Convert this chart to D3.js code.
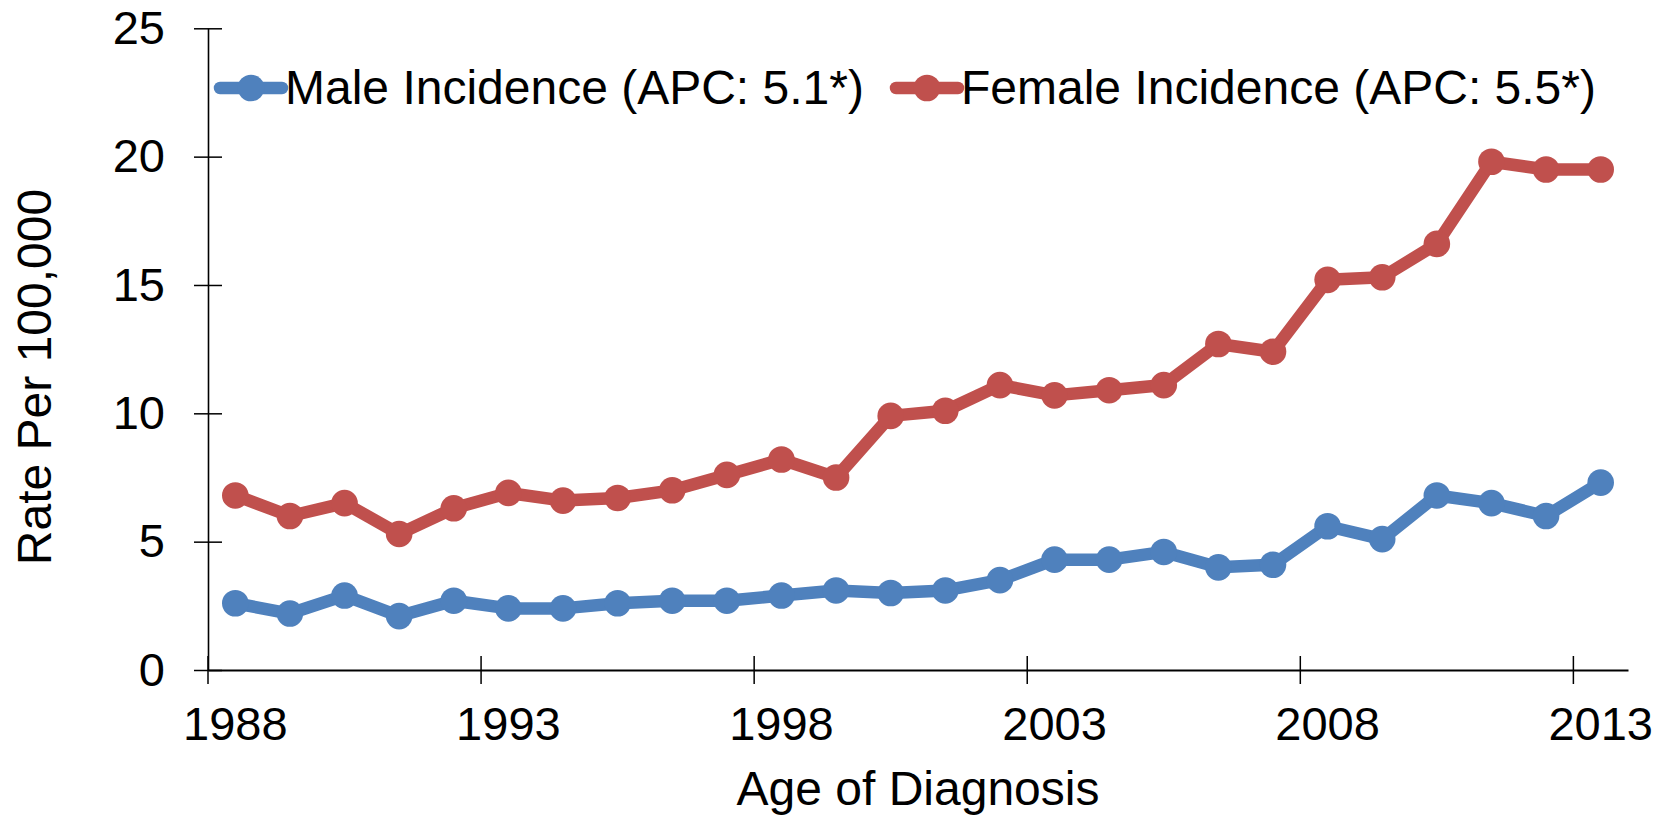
<!DOCTYPE html>
<html>
<head>
<meta charset="utf-8">
<script src="https://cdn.jsdelivr.net/npm/d3@7"></script>
<style>
  body { margin: 0; background: #fff; }
  svg { display: block; font-family: "Liberation Sans", Arial, sans-serif; }
</style>
</head>
<body>
<svg id="chart" width="1669" height="815"></svg>
<script>
// data
var years = [1988, 1989, 1990, 1991, 1992, 1993, 1994, 1995, 1996, 1997, 1998, 1999, 2000,
             2001, 2002, 2003, 2004, 2005, 2006, 2007, 2008, 2009, 2010, 2011, 2012, 2013];
var maleValues = [2.6, 2.2, 2.9, 2.1, 2.7, 2.4, 2.4, 2.6, 2.7, 2.7, 2.9, 3.1, 3.0,
                  3.1, 3.5, 4.3, 4.3, 4.6, 4.0, 4.1, 5.6, 5.1, 6.8, 6.5, 6.0, 7.3];
var femaleValues = [6.8, 6.0, 6.5, 5.3, 6.3, 6.9, 6.6, 6.7, 7.0, 7.6, 8.2, 7.5, 9.9,
                    10.1, 11.1, 10.7, 10.9, 11.1, 12.7, 12.4, 15.2, 15.3, 16.6, 19.8, 19.5, 19.5];
var xTickYears = [1988, 1993, 1998, 2003, 2008, 2013];
var yTicks = [0, 5, 10, 15, 20, 25];
var seriesNames = ["Male Incidence (APC: 5.1*)", "Female Incidence (APC: 5.5*)"];
var seriesColors = ["#4F81BD", "#C0504D"];

function draw() {
    let svg = d3.select("#chart");
    let left = 208, right = 1628, top = 28.3, bottom = 670;

    // category axis: one band per year, ticks on band edges, labels in the middle
    let x = d3.scaleBand().domain(years).range([left, right]).padding(0);
    let y = d3.scaleLinear().domain([0, 25]).range([bottom, top]);
    let bw = x.bandwidth();

    // y axis
    let yAxis = svg.append("g")
        .attr("transform", "translate(" + left + ",0)")
        .call(d3.axisLeft(y).tickValues(yTicks).tickSize(0).tickPadding(43).tickFormat(d3.format("d")));
    yAxis.select(".domain").attr("stroke", "#000").attr("stroke-width", 1.6);
    yAxis.selectAll(".tick line").attr("x1", -14).attr("x2", 14)
        .attr("stroke", "#000").attr("stroke-width", 1.5);
    yAxis.selectAll(".tick text").attr("font-size", 47).attr("fill", "#000")
        .attr("font-family", "Liberation Sans, Arial, sans-serif");

    // x axis
    let xAxis = svg.append("g")
        .attr("transform", "translate(0," + bottom + ")")
        .call(d3.axisBottom(x).tickValues(xTickYears).tickSize(0).tickPadding(37));
    xAxis.select(".domain").attr("stroke", "#000").attr("stroke-width", 2);
    xAxis.selectAll(".tick line")
        .attr("x1", -bw / 2).attr("x2", -bw / 2)
        .attr("y1", -14).attr("y2", 14)
        .attr("stroke", "#000").attr("stroke-width", 1.5);
    xAxis.selectAll(".tick text").attr("font-size", 47).attr("fill", "#000")
        .attr("font-family", "Liberation Sans, Arial, sans-serif");

    // axis titles
    svg.append("text")
        .attr("x", (left + right) / 2).attr("y", 805)
        .attr("text-anchor", "middle").attr("font-size", 48)
        .text("Age of Diagnosis");
    svg.append("text")
        .attr("transform", "translate(51,377) rotate(-90)")
        .attr("text-anchor", "middle").attr("font-size", 48)
        .text("Rate Per 100,000");

    // lines + markers
    let line = d3.line()
        .x(function (d) { return x(d.year) + bw / 2; })
        .y(function (d) { return y(d.value); });

    [maleValues, femaleValues].forEach(function (vals, i) {
        let pts = years.map(function (yr, j) { return { year: yr, value: vals[j] }; });
        let g = svg.append("g").attr("class", "series");
        g.append("path")
            .datum(pts)
            .attr("d", line)
            .attr("fill", "none")
            .attr("stroke", seriesColors[i])
            .attr("stroke-width", 12.5)
            .attr("stroke-linejoin", "round");
        g.selectAll("circle")
            .data(pts)
            .enter().append("circle")
            .attr("cx", function (d) { return x(d.year) + bw / 2; })
            .attr("cy", function (d) { return y(d.value); })
            .attr("r", 13.3)
            .attr("fill", seriesColors[i]);
    });

    // legend
    let legendX = [220, 896];
    let legend = svg.append("g").attr("class", "legend");
    seriesNames.forEach(function (name, i) {
        let lx = legendX[i];
        legend.append("line")
            .attr("x1", lx).attr("x2", lx + 62)
            .attr("y1", 88).attr("y2", 88)
            .attr("stroke", seriesColors[i])
            .attr("stroke-width", 12.5)
            .attr("stroke-linecap", "round");
        legend.append("circle")
            .attr("cx", lx + 31).attr("cy", 88).attr("r", 13.3)
            .attr("fill", seriesColors[i]);
        legend.append("text")
            .attr("x", lx + 65).attr("y", 104)
            .attr("font-size", 48)
            .text(name);
    });
}

draw();
</script>
</body>
</html>
